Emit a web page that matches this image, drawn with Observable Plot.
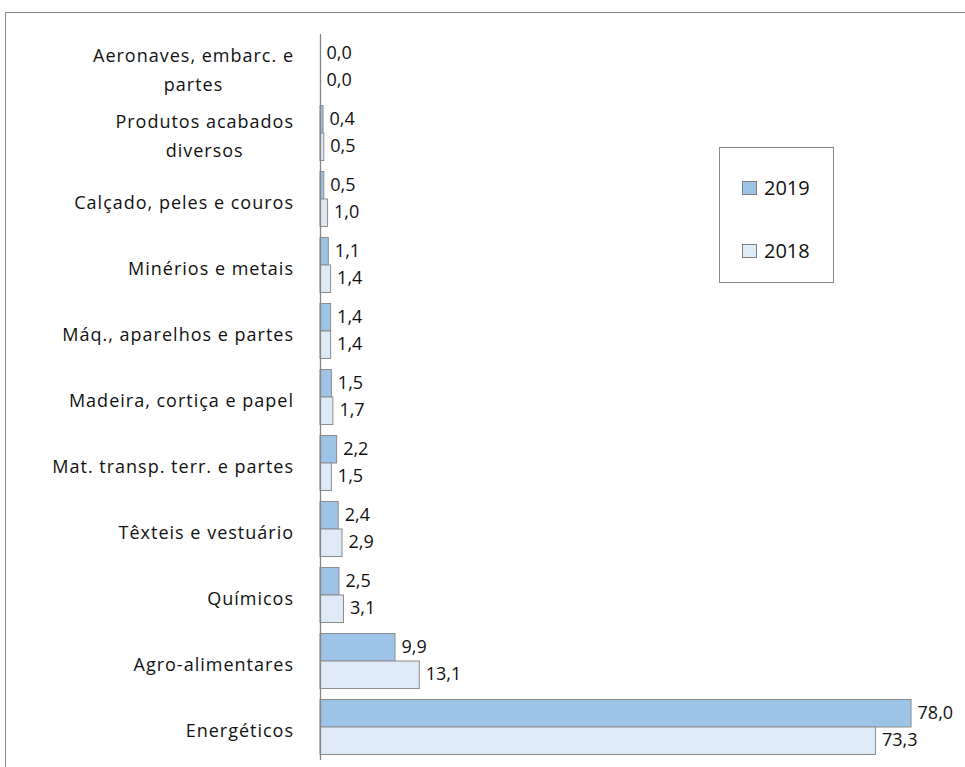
<!DOCTYPE html>
<html>
<head>
<meta charset="utf-8">
<script src="https://cdn.jsdelivr.net/npm/d3@7"></script>
<script src="https://cdn.jsdelivr.net/npm/@observablehq/plot@0.6"></script>
<style>
  html, body { margin: 0; padding: 0; background: #fff; }
  body { width: 965px; height: 767px; position: relative; overflow: hidden; font-family: "Open Sans", sans-serif; }
  #frame { position: absolute; left: 5px; top: 12px; width: 970px; height: 770px; border: 1px solid #8a8a8a; box-sizing: border-box; pointer-events: none; }
  #chart { position: absolute; left: 0; top: 0; }
  #legend { position: absolute; left: 719px; top: 147px; width: 115px; height: 136px; border: 1px solid #8a8a8a; box-sizing: border-box; background: #fff; }
  .item { position: absolute; left: 22px; display: flex; align-items: center; font-size: 20px; color: #111; }
  .sw { width: 13px; height: 12px; border: 1px solid #7f7f7f; margin-right: 7px; }
</style>
</head>
<body>
<div id="chart"></div>
<div id="frame"></div>
<div id="legend"></div>
<script>
const categories = ["Aeronaves, embarc. e partes", "Produtos acabados diversos", "Calçado, peles e couros", "Minérios e metais", "Máq., aparelhos e partes", "Madeira, cortiça e papel", "Mat. transp. terr. e partes", "Têxteis e vestuário", "Químicos", "Agro-alimentares", "Energéticos"];
const categoryLabels = ["Aeronaves, embarc. e\npartes", "Produtos acabados\ndiversos", "Calçado, peles e couros", "Minérios e metais", "Máq., aparelhos e partes", "Madeira, cortiça e papel", "Mat. transp. terr. e partes", "Têxteis e vestuário", "Químicos", "Agro-alimentares", "Energéticos"];
const values2019 = [0.0, 0.4, 0.5, 1.1, 1.4, 1.5, 2.2, 2.4, 2.5, 9.9, 78.0];
const values2018 = [0.0, 0.5, 1.0, 1.4, 1.4, 1.7, 1.5, 2.9, 3.1, 13.1, 73.3];
const seriesNames = ["2019", "2018"];
const seriesColors = ["#9dc3e6", "#deebf7"];

const data19 = categories.map((c, i) => ({cat: c, v: values2019[i]}));
const data18 = categories.map((c, i) => ({cat: c, v: values2018[i]}));
const fmt = v => d3.format(".1f")(v).replace(".", ",");

const FONT = "'Open Sans', sans-serif";
const LABEL_SIZE = 18;
const SPACING = 1;
const ctx = document.createElement("canvas").getContext("2d");
ctx.font = `${LABEL_SIZE}px ${FONT}`;
const gap = 27;
const measure = s => ctx.measureText(s).width + SPACING * s.length;

const labelMarks = categories.map((c, i) => {
  const lines = categoryLabels[i].split("\n");
  const w = Math.max(...lines.map(measure));
  return Plot.text([c], {
    y: d => d, text: () => categoryLabels[i], frameAnchor: "left",
    textAnchor: "middle", dx: -(gap + w / 2 - SPACING / 2), lineHeight: 1.6,
    fontSize: LABEL_SIZE, fill: "#111"
  });
});

const barStroke = "#8c8c8c";
const chart = Plot.plot({
  width: 965,
  height: 767,
  marginLeft: 320,
  marginRight: 10,
  marginTop: 34,
  marginBottom: 7,
  style: {fontFamily: FONT, fontSize: "18px", background: "transparent"},
  x: {domain: [0, 83.8], axis: null},
  y: {domain: categories, padding: 0, axis: null},
  marks: [
    Plot.barX(data19, {y: "cat", x: "v", insetTop: 5.5, insetBottom: 33, fill: seriesColors[0], stroke: barStroke, strokeWidth: 1}),
    Plot.barX(data18, {y: "cat", x: "v", insetTop: 33, insetBottom: 5.5, fill: seriesColors[1], stroke: barStroke, strokeWidth: 1}),
    Plot.ruleX([0], {stroke: "#868686", strokeWidth: 1.3}),
    Plot.text(data19, {y: "cat", x: "v", text: d => fmt(d.v), dy: -14, dx: 6, textAnchor: "start", fontSize: 18, fill: "#111"}),
    Plot.text(data18, {y: "cat", x: "v", text: d => fmt(d.v), dy: 13, dx: 6, textAnchor: "start", fontSize: 18, fill: "#111"}),
    ...labelMarks
  ]
});
document.getElementById("chart").appendChild(chart);
// letter spacing for category labels (text marks after the two value-label marks)
d3.select(chart).selectAll("g[aria-label='text']").filter((d, i) => i >= 2)
  .style("letter-spacing", SPACING + "px");

const legend = document.getElementById("legend");
const tops = [26, 89];
seriesNames.forEach((name, i) => {
  const item = document.createElement("div");
  item.className = "item";
  item.style.top = tops[i] + "px";
  const sw = document.createElement("div");
  sw.className = "sw";
  sw.style.background = seriesColors[i];
  const t = document.createElement("span");
  t.textContent = name;
  item.appendChild(sw);
  item.appendChild(t);
  legend.appendChild(item);
});
</script>
</body>
</html>
